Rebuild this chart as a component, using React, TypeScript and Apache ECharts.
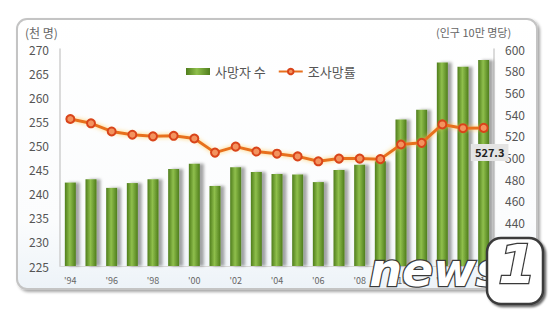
import React, { useEffect, useRef } from "react";
import * as echarts from "echarts";

const categories = ["'94", "'95", "'96", "'97", "'98", "'99", "'00", "'01", "'02", "'03", "'04", "'05", "'06", "'07", "'08", "'09", "'10", "'11", "'12", "'13", "'14"];
const deaths = [242.3, 243.0, 241.2, 242.2, 243.0, 245.1, 246.2, 241.6, 245.5, 244.5, 244.1, 244.0, 242.4, 244.9, 246.0, 246.7, 255.4, 257.4, 267.2, 266.3, 267.7];
const rate = [535.5, 531.5, 524.0, 521.0, 519.5, 520.0, 517.5, 504.5, 510.0, 505.5, 503.5, 501.0, 496.5, 499.0, 499.0, 498.5, 512.0, 513.5, 530.5, 527.0, 527.3];
const leftTicks = { min: 225, max: 270, interval: 5 };
const rightTicks = { min: 400, max: 600, interval: 20 };

const FONT = "'Noto Sans CJK KR', 'Noto Sans', sans-serif";

export default function App() {
  const ref = useRef<HTMLDivElement>(null);
  useEffect(() => {
    if (!ref.current) return;
    const chart = echarts.init(ref.current, null, { renderer: "svg" });
    const barGrad = new echarts.graphic.LinearGradient(0, 0, 1, 0, [
      { offset: 0, color: "#4f7d1c" },
      { offset: 0.45, color: "#8fbf4c" },
      { offset: 1, color: "#4f7d1c" },
    ]);
    chart.setOption({
      animation: false,
      textStyle: { fontFamily: FONT },
      graphic: [
        {
          type: "rect",
          z: -10,
          silent: true,
          shape: { x: 17, y: 19, width: 520, height: 270, r: 10 },
          style: {
            fill: new echarts.graphic.LinearGradient(0, 0, 0, 1, [
              { offset: 0, color: "#ffffff" },
              { offset: 0.75, color: "#fbfcfd" },
              { offset: 1, color: "#edf3f8" },
            ]),
            stroke: "#c4c4c4",
            lineWidth: 2,
            shadowColor: "rgba(0,0,0,0.35)",
            shadowBlur: 3,
            shadowOffsetX: 2,
            shadowOffsetY: 2,
          },
        },
        {
          type: "text",
          left: 25,
          top: 26,
          style: { text: "(천 명)", fill: "#666", font: `12px ${FONT}` },
        },
        {
          type: "text",
          left: 436,
          top: 26,
          style: { text: "(인구 10만 명당)", fill: "#666", font: `11px ${FONT}` },
        },
        {
          type: "text",
          left: 368,
          top: 246,
          z: 100,
          style: {
            text: "news",
            fill: "#ffffff",
            stroke: "#3a3a3a",
            lineWidth: 2.5,
            font: `italic bold 46px 'DejaVu Sans', sans-serif`,
            shadowColor: "rgba(0,0,0,0.6)",
            shadowBlur: 2,
            shadowOffsetX: 2,
            shadowOffsetY: 2,
          },
        },
        {
          type: "rect",
          z: 100,
          shape: { x: 487, y: 238, width: 56, height: 66, r: 14 },
          style: {
            fill: "#ffffff",
            stroke: "#3a3a3a",
            lineWidth: 2.5,
            shadowColor: "rgba(0,0,0,0.6)",
            shadowBlur: 2,
            shadowOffsetX: 2,
            shadowOffsetY: 2,
          },
        },
        {
          type: "text",
          left: 497,
          top: 236,
          z: 101,
          style: {
            text: "1",
            fill: "#ffffff",
            stroke: "#3a3a3a",
            lineWidth: 2.5,
            font: `italic bold 54px 'DejaVu Sans', sans-serif`,
          },
        },
      ],
      legend: {
        left: 181,
        top: 60,
        itemGap: 12,
        itemWidth: 24,
        itemHeight: 7,
        textStyle: { color: "#555", fontSize: 13, fontFamily: FONT },
        data: [
          { name: "사망자 수", icon: "rect" },
          { name: "조사망률" },
        ],
      },
      grid: { left: 60, right: 66, top: 49, bottom: 57 },
      xAxis: {
        type: "category",
        data: categories,
        axisTick: { show: false },
        axisLine: { show: true, lineStyle: { color: "#d8d8d8" } },
        axisLabel: { interval: 1, color: "#666", fontSize: 9, margin: 10 },
      },
      yAxis: [
        {
          type: "value",
          min: leftTicks.min,
          max: leftTicks.max,
          interval: leftTicks.interval,
          splitLine: { show: false },
          axisTick: { show: false },
          axisLine: { show: true, lineStyle: { color: "#cfcfcf", width: 1.5 } },
          axisLabel: { color: "#555", fontSize: 12, margin: 11 },
        },
        {
          type: "value",
          min: rightTicks.min,
          max: rightTicks.max,
          interval: rightTicks.interval,
          splitLine: { show: false },
          axisTick: { show: false },
          axisLine: { show: true, lineStyle: { color: "#cfcfcf", width: 1.5 } },
          axisLabel: { color: "#555", fontSize: 12, margin: 11, showMinLabel: false },
        },
      ],
      series: [
        {
          name: "사망자 수",
          type: "bar",
          data: deaths,
          barWidth: 11,
          itemStyle: {
            color: barGrad,
            shadowColor: "rgba(0,0,0,0.35)",
            shadowBlur: 3,
            shadowOffsetX: 4,
            shadowOffsetY: 0,
          },
        },
        {
          name: "조사망률",
          type: "line",
          yAxisIndex: 1,
          data: rate.map((v, i) =>
            i === rate.length - 1
              ? {
                  value: v,
                  label: {
                    show: true,
                    position: "bottom",
                    offset: [6, 6],
                    formatter: "{c}",
                    color: "#222",
                    fontWeight: "bold",
                    fontSize: 11,
                    backgroundColor: "#e4e4e4",
                    padding: [3, 4],
                  },
                }
              : v
          ),
          symbol: "circle",
          symbolSize: 8,
          lineStyle: {
            color: "#e8701e",
            width: 3,
            shadowColor: "rgba(255,200,90,0.9)",
            shadowBlur: 4,
          },
          itemStyle: {
            color: "#f3935e",
            borderColor: "#d9441a",
            borderWidth: 2,
          },
          z: 5,
        },
      ],
    });
    return () => chart.dispose();
  }, []);
  return (
    <div
      ref={ref}
      style={{ position: "fixed", left: 0, top: 0, width: 560, height: 323, background: "#fff" }}
    />
  );
}
